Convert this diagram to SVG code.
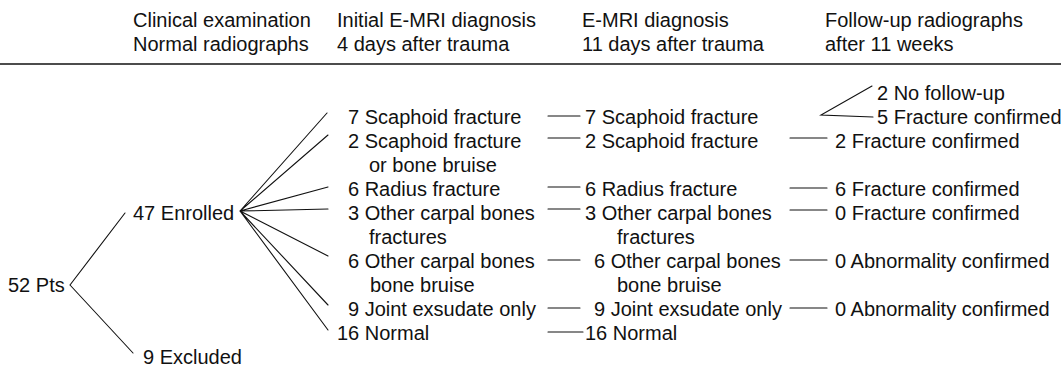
<svg xmlns="http://www.w3.org/2000/svg" width="1061" height="366" viewBox="0 0 1061 366">
<style>
text { font-family: "Liberation Sans", Arial, sans-serif; font-size: 20px; fill: #111; }
.c { stroke: #111; stroke-width: 1.1; fill: none; stroke-linecap: round; }
.rule { stroke: #111; stroke-width: 1.4; }
</style>
<rect width="1061" height="366" fill="#fff"/>
<g id="headers">
  <g id="hdr-clinical"><text x="133" y="27">Clinical examination</text><text x="133" y="51">Normal radiographs</text></g>
  <g id="hdr-initial"><text x="337" y="27">Initial E-MRI diagnosis</text><text x="337" y="51">4 days after trauma</text></g>
  <g id="hdr-emri"><text x="582" y="27">E-MRI diagnosis</text><text x="582" y="51">11 days after trauma</text></g>
  <g id="hdr-follow"><text x="825" y="27">Follow-up radiographs</text><text x="825" y="51">after 11 weeks</text></g>
  <line class="rule" x1="0" y1="64" x2="1061" y2="64"/>
</g>
<g id="connectors">
  <path class="c" d="M70,285 L125,213 M70,285 L133,353"/>
  <path class="c" d="M240,211 L327,113 M240,211 L328,135 M240,211 L328,187 M240,211 L328,209 M240,211 L328,256 M240,211 L328,305 M240,211 L328,330"/>
  <path class="c" d="M548,116 H580 M548,138 H580 M548,187 H580 M548,209 H580 M548,260 H580 M548,308 H580 M548,332 H583"/>
  <path class="c" d="M790,138 H827 M790,188 H827 M790,210 H827 M790,260 H827 M790,308 H827"/>
  <path class="c" d="M872,86 L821,115 L873,117"/>
</g>
<g id="n-52"><text x="8" y="292">52 Pts</text></g>
<g id="n-47"><text x="133" y="220">47 Enrolled</text></g>
<g id="n-9ex"><text x="143" y="364">9 Excluded</text></g>
<g id="a1"><text x="348" y="124">7 Scaphoid fracture</text></g>
<g id="a2"><text x="348" y="148">2 Scaphoid fracture</text><text x="369" y="172">or bone bruise</text></g>
<g id="a3"><text x="348" y="196">6 Radius fracture</text></g>
<g id="a4"><text x="348" y="220">3 Other carpal bones</text><text x="369" y="244">fractures</text></g>
<g id="a5"><text x="348" y="268">6 Other carpal bones</text><text x="370" y="292">bone bruise</text></g>
<g id="a6"><text x="348" y="316">9 Joint exsudate only</text></g>
<g id="a7"><text x="337" y="340">16 Normal</text></g>
<g id="b1"><text x="585" y="124">7 Scaphoid fracture</text></g>
<g id="b2"><text x="585" y="148">2 Scaphoid fracture</text></g>
<g id="b3"><text x="585" y="196">6 Radius fracture</text></g>
<g id="b4"><text x="585" y="220">3 Other carpal bones</text><text x="617" y="244">fractures</text></g>
<g id="b5"><text x="594" y="268">6 Other carpal bones</text><text x="617" y="292">bone bruise</text></g>
<g id="b6"><text x="594" y="316">9 Joint exsudate only</text></g>
<g id="b7"><text x="585" y="340">16 Normal</text></g>
<g id="c0"><text x="877" y="100">2 No follow-up</text></g>
<g id="c1"><text x="877" y="124">5 Fracture confirmed</text></g>
<g id="c2"><text x="835" y="148">2 Fracture confirmed</text></g>
<g id="c3"><text x="835" y="196">6 Fracture confirmed</text></g>
<g id="c4"><text x="835" y="220">0 Fracture confirmed</text></g>
<g id="c5"><text x="835" y="268">0 Abnormality confirmed</text></g>
<g id="c6"><text x="835" y="316">0 Abnormality confirmed</text></g>
</svg>
